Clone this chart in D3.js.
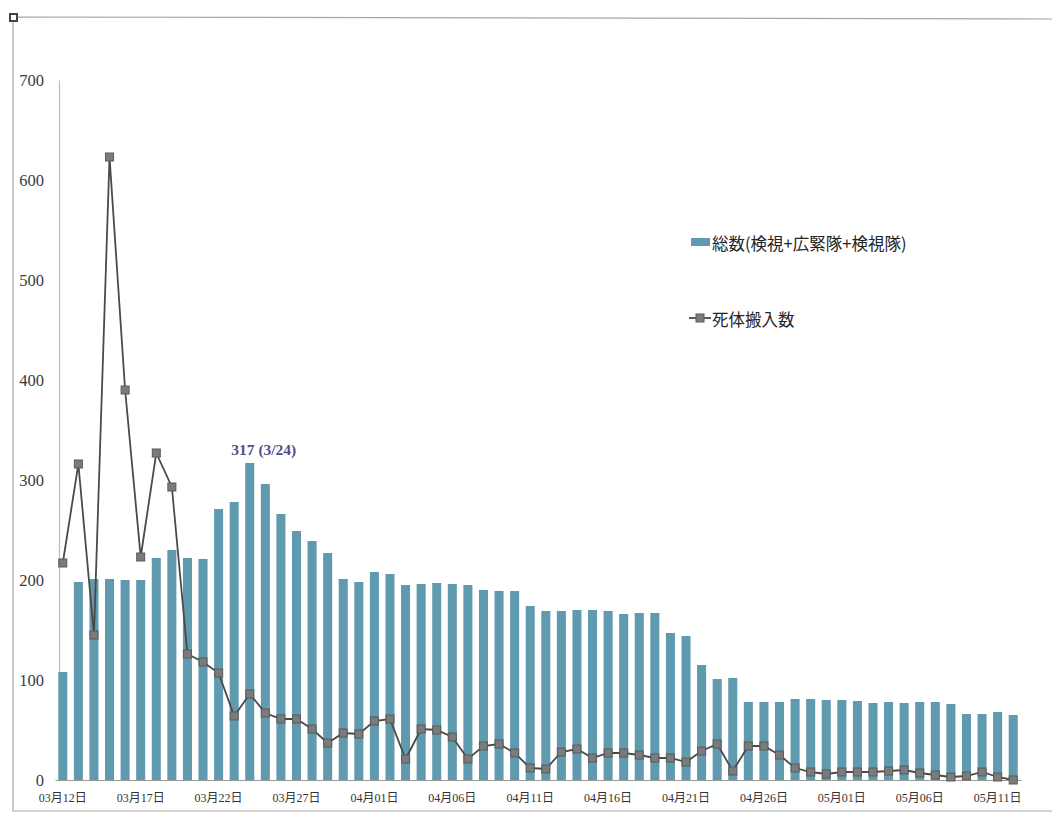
<!DOCTYPE html>
<html>
<head>
<meta charset="utf-8">
<script src="https://cdn.jsdelivr.net/npm/d3@7"></script>
<style>
  body { margin: 0; background: #fff; }
  svg { display: block; }
</style>
</head>
<body>
<div id="chart"></div>
<script>
// Data
const startDate = '2011-03-12'
const totalCounts = [
  108, 198, 201, 201, 200, 200, 222, 230, 222, 221,
  271, 278, 317, 296, 266, 249, 239, 227, 201, 198,
  208, 206, 195, 196, 197, 196, 195, 190, 189, 189,
  174, 169, 169, 170, 170, 169, 166, 167, 167, 147,
  144, 115, 101, 102, 78, 78, 78, 81, 81, 80,
  80, 79, 77, 78, 77, 78, 78, 76, 66, 66,
  68, 65
]
const arrivals = [
  217, 316, 145, 623, 390, 223, 327, 293, 126, 118,
  107, 64, 86, 67, 61, 61, 51, 37, 47, 46,
  59, 61, 21, 51, 50, 43, 21, 34, 36, 27,
  12, 11, 28, 31, 22, 27, 27, 25, 22, 22,
  18, 29, 36, 9, 34, 34, 25, 12, 8, 6,
  8, 8, 8, 9, 10, 7, 5, 3, 4, 8,
  3, 0
]
const yTicks = [0, 100, 200, 300, 400, 500, 600, 700]
const seriesNames = ['総数(検視+広緊隊+検視隊)', '死体搬入数']
const peakLabel = '317 (3/24)'

const parseDate = d3.timeParse('%Y-%m-%d')
const dates = totalCounts.map((d, i) => d3.timeDay.offset(parseDate(startDate), i))
const fmt = d3.timeFormat('%m月%d日')
const categories = dates.map(fmt)

// Dimensions
const width = 1052
const height = 814
const plot = { left: 55, right: 1021, top: 80, bottom: 780 }

const svg = d3.select('#chart')
  .append('svg')
  .attr('width', width)
  .attr('height', height)

// frame
svg.append('path')
  .attr('d', `M1052,19 L13,17 L13,811 L1052,811`)
  .attr('fill', 'none')
  .attr('stroke', '#a8a8a8')
  .attr('stroke-width', 1.2)
svg.append('rect')
  .attr('x', 10).attr('y', 14).attr('width', 7).attr('height', 7)
  .attr('fill', '#fff').attr('stroke', '#444').attr('stroke-width', 2)

// Scales
const xScale = d3.scaleBand()
  .domain(categories)
  .range([plot.left, plot.right])
  .paddingInner(0.42)
  .paddingOuter(0.21)

const yScale = d3.scaleLinear()
  .domain([0, 700])
  .range([plot.bottom, plot.top])

const cx = (i) => xScale(categories[i]) + xScale.bandwidth() / 2

// Axes
const yAxis = d3.axisLeft(yScale).tickValues(yTicks).tickSize(0).tickPadding(15)
const yg = svg.append('g')
  .attr('transform', `translate(${plot.left + 4},0)`)
  .call(yAxis)
yg.select('.domain').attr('stroke', '#bdbdbd').attr('stroke-width', 1.2)
yg.selectAll('text')
  .attr('font-family', '"Liberation Serif", serif')
  .attr('font-size', 16.5)
  .attr('fill', '#3a3a3a')

const xAxis = d3.axisBottom(xScale)
  .tickValues(categories.filter((d, i) => i % 5 === 0))
  .tickSize(0)
  .tickPadding(13)
const xg = svg.append('g')
  .attr('transform', `translate(0,${plot.bottom})`)
  .call(xAxis)
xg.select('.domain').attr('stroke', '#9a9a9a').attr('stroke-width', 1.2)
xg.selectAll('text')
  .attr('font-family', '"Liberation Serif", "Noto Sans CJK JP", serif')
  .attr('font-size', 12)
  .attr('fill', '#333')

// Bars
svg.append('g')
  .selectAll('rect')
  .data(totalCounts)
  .join('rect')
  .attr('x', (d, i) => xScale(categories[i]))
  .attr('y', (d) => yScale(d))
  .attr('width', xScale.bandwidth())
  .attr('height', (d) => yScale(0) - yScale(d))
  .attr('fill', '#5f9aae')

// Peak annotation
const peakIdx = totalCounts.indexOf(d3.max(totalCounts))
svg.append('text')
  .attr('x', cx(peakIdx) + 14)
  .attr('y', yScale(totalCounts[peakIdx]) - 8)
  .attr('text-anchor', 'middle')
  .attr('font-family', '"Liberation Serif", serif')
  .attr('font-weight', 'bold')
  .attr('font-size', 15.5)
  .attr('fill', '#4f4f8c')
  .text(peakLabel)

// Line
const lineGenerator = d3.line()
  .x((d, i) => cx(i))
  .y((d) => yScale(d))

svg.append('path')
  .datum(arrivals)
  .attr('d', lineGenerator)
  .attr('fill', 'none')
  .attr('stroke', '#4a4a4a')
  .attr('stroke-width', 1.8)

svg.append('g')
  .selectAll('rect')
  .data(arrivals)
  .join('rect')
  .attr('x', (d, i) => cx(i) - 4)
  .attr('y', (d) => yScale(d) - 4)
  .attr('width', 8)
  .attr('height', 8)
  .attr('fill', '#7b7b7b')
  .attr('stroke', '#5a5a5a')
  .attr('stroke-width', 1)

// Legend
const legend = svg.append('g')
  .attr('font-family', '"Noto Sans CJK JP", sans-serif')
  .attr('font-size', 16.5)
  .attr('fill', '#222')

legend.append('rect')
  .attr('x', 691).attr('y', 238).attr('width', 19).attr('height', 8)
  .attr('fill', '#5f9aae')
legend.append('text')
  .attr('x', 712).attr('y', 250)
  .text(seriesNames[0])

legend.append('line')
  .attr('x1', 689).attr('x2', 711).attr('y1', 318).attr('y2', 318)
  .attr('stroke', '#4a4a4a').attr('stroke-width', 1.8)
legend.append('rect')
  .attr('x', 696).attr('y', 314).attr('width', 8).attr('height', 8)
  .attr('fill', '#7b7b7b').attr('stroke', '#5a5a5a')
legend.append('text')
  .attr('x', 712).attr('y', 326)
  .text(seriesNames[1])
</script>
</body>
</html>
